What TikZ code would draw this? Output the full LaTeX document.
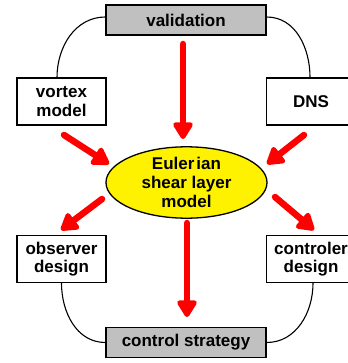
\documentclass[tikz,border=0pt]{standalone}
\usepackage{fontspec}
\setmainfont{Liberation Sans}
\usetikzlibrary{arrows.meta,shapes.geometric}
\definecolor{boxgray}{HTML}{C0C0C0}
\tikzset{
  blk/.style={draw=black, line width=1.3pt, fill=white, minimum width=89pt,
    minimum height=47pt, align=center, inner sep=0pt,
    font=\fontsize{17}{18.5}\selectfont\bfseries},
  graybox/.style={blk, fill=boxgray, minimum width=160pt, minimum height=30pt},
  core/.style={ellipse, draw=black, line width=1.3pt, fill=yellow,
    minimum width=161pt, minimum height=61pt, inner sep=0pt, align=center,
    font=\fontsize{17}{19}\selectfont\bfseries},
  link/.style={line width=1.1pt, black},
  flow/.style={line width=6.5pt, red, line cap=round,
    -{Triangle[length=19pt,width=22pt,round]}}
}
\begin{document}
\begin{tikzpicture}[x=1pt,y=-1pt]
\useasboundingbox (0,0) rectangle (347,363);
% boxes
\node[graybox] (val) at (186,20) {validation};
\node[graybox] (cs) at (186,342.5) {control strategy};
\node[blk] (vm) at (61.5,101.5) {vortex\\model};
\node[blk] (dns) at (311,101.5) {DNS};
\node[blk] (obs) at (61.5,259) {observer\\design};
\node[blk] (ctl) at (311,259) {controler\\design};
\node[core] (eul) at (186.5,182.5) {Euler\kern2pt ian\\shear layer\\model};
% thin rounded links
\draw[link] ([yshift=3pt]val.west) to[out=180,in=90] ([xshift=-4.5pt]vm.north);
\draw[link] ([yshift=3pt]val.east) to[out=0,in=90] ([xshift=-1pt]dns.north);
\draw[link] (obs.south) to[out=-90,in=180] (cs.west);
\draw[link] ([xshift=2pt]ctl.south) to[out=-90,in=0] (cs.east);
% red flow arrows
\coordinate (t1) at (183,44);
\coordinate (t2) at (64,135);
\coordinate (t3) at (304,135);
\coordinate (b1) at (187,223);
\coordinate (b2) at (102,199);
\coordinate (b3) at (275,197);
\draw[flow] (t1) -- (183,139);
\draw[flow] (t2) -- (109,164);
\draw[flow] (t3) -- (267,164);
\draw[flow] (b1) -- (187,317);
\draw[flow] (b2) -- (61,230);
\draw[flow] (b3) -- (314,230);
\end{tikzpicture}
\end{document}
